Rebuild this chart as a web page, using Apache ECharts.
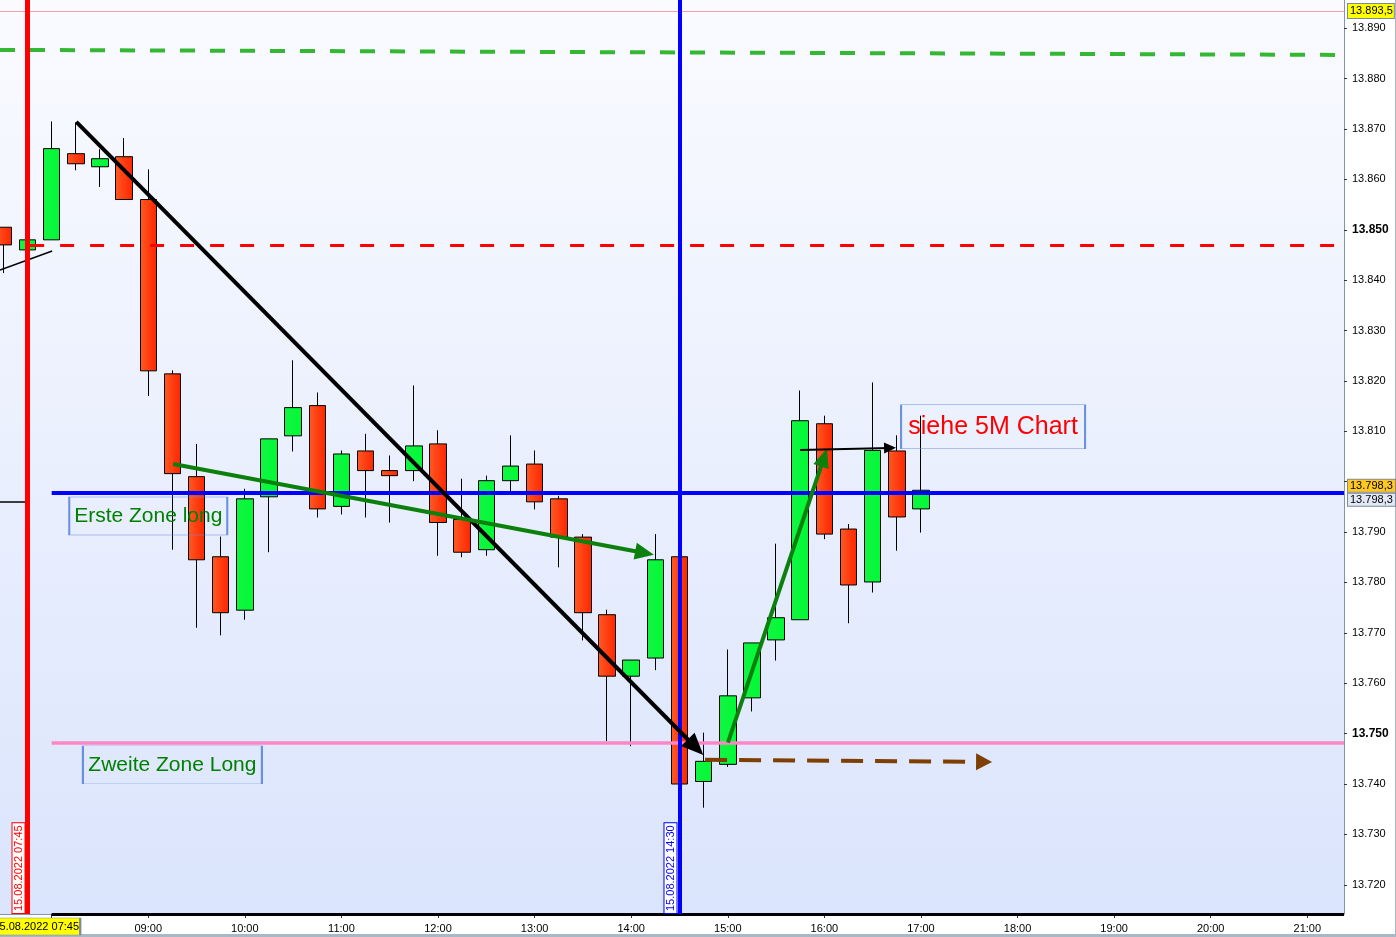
<!DOCTYPE html>
<html>
<head>
<meta charset="utf-8">
<script src="https://cdn.jsdelivr.net/npm/echarts@6/dist/echarts.min.js"></script>
<style>
html,body{margin:0;padding:0;background:#ffffff;}
#chart{width:1396px;height:937px;}
</style>
</head>
<body>
<div id="chart"></div>
<script>
// ---------- data (15-minute candles, 15.08.2022) ----------
const candleTimes = ['07:30','07:45','08:00','08:15','08:30','08:45','09:00','09:15','09:30','09:45',
  '10:00','10:15','10:30','10:45','11:00','11:15','11:30','11:45','12:00','12:15',
  '12:30','12:45','13:00','13:15','13:30','13:45','14:00','14:15','14:30','14:45',
  '15:00','15:15','15:30','15:45','16:00','16:15','16:30','16:45','17:00'];
const opens  = [13850.5,13846.0,13848.0,13865.1,13862.5,13864.5,13856.0,13821.4,13801.0,13785.1,
  13774.5,13797.0,13809.1,13815.1,13795.1,13806.1,13802.2,13802.2,13807.5,13792.5,
  13786.5,13800.2,13803.5,13796.6,13789.0,13773.6,13761.4,13765.0,13785.1,13740.5,
  13743.9,13757.1,13768.6,13772.6,13811.5,13790.6,13780.1,13806.1,13794.6];
const closes = [13847.0,13848.0,13866.1,13863.1,13864.1,13856.0,13822.0,13801.6,13784.5,13774.0,
  13796.6,13808.5,13814.7,13794.6,13805.5,13802.2,13801.2,13807.1,13791.9,13786.0,
  13800.2,13803.1,13796.0,13789.0,13774.0,13761.4,13764.6,13784.5,13740.0,13744.5,
  13757.5,13768.0,13773.0,13812.1,13789.6,13779.5,13806.2,13793.0,13798.3];
const lows   = [13841.4,13846.0,13848.0,13861.8,13858.5,13856.0,13817.0,13786.5,13771.0,13769.5,
  13772.6,13786.0,13806.0,13792.9,13793.5,13792.9,13791.9,13800.1,13785.3,13785.0,
  13785.3,13798.1,13794.5,13783.0,13768.5,13748.5,13747.5,13762.6,13740.0,13735.3,
  13743.4,13754.4,13764.5,13772.6,13788.6,13771.9,13778.0,13786.3,13789.9];
const highs  = [13850.5,13848.0,13871.5,13871.3,13866.0,13868.2,13862.0,13822.1,13807.5,13789.1,
  13798.6,13808.5,13824.1,13817.7,13806.2,13809.5,13805.2,13819.1,13810.2,13800.6,
  13801.2,13809.2,13806.2,13797.2,13789.6,13774.6,13764.6,13789.6,13785.1,13750.2,
  13766.7,13768.0,13787.7,13818.1,13813.1,13791.6,13819.7,13809.2,13813.1];

const yTickValues = [13720,13730,13740,13750,13760,13770,13780,13790,13800,13810,
  13820,13830,13840,13850,13860,13870,13880,13890];
const yLabelValues = [13720,13730,13740,13750,13760,13770,13780,13790,13810,
  13820,13830,13840,13850,13860,13870,13880,13890];
const yBoldTicks = [13750,13850];
const xTickTimes  = ['08:00','09:00','10:00','11:00','12:00','13:00','14:00','15:00','16:00','17:00','18:00','19:00','20:00','21:00'];
const xLabelTimes = ['09:00','10:00','11:00','12:00','13:00','14:00','15:00','16:00','17:00','18:00','19:00','20:00','21:00'];

// drawn levels / annotations (time, price)
const topPrice = 13893.4, topPriceText = '13.893,5';
const lastPriceLine = 13797.8, lastPriceText = '13.798,3';
const redZone = 13847.0;
const pinkZone = 13748.2;
const greenDashed = [['07:27:54', 13885.7], ['21:22:48', 13884.7]];
const redDashed = [['07:46:36', redZone], ['21:17:12', redZone]];
const sessionStart = '07:45', sessionStartText = '15.08.2022 07:45';
const marker1430 = '14:30', marker1430Text = '15.08.2022 14:30';
const prevLevel = [['07:27:54', 13796.1], ['07:43:30', 13796.1]];
const prevTrend = [['07:27:54', 13842.0], ['08:00:18', 13845.8]];
const blackArrow = [['08:15:18', 13871.4], ['14:40:00', 13747.3]];
const greenArrow1 = [['09:15:30', 13803.5], ['14:08:18', 13785.85]];
const greenArrow2 = [['15:00:06', 13748.2], ['15:59:48', 13804.8]];
const blackSmallArrow = [['15:44:54', 13806.3], ['16:40:48', 13806.7]];
const brownArrow = [['14:45:54', 13744.8], ['17:39:12', 13744.4]];
const notes = [
  {text: 'Erste Zone long', t: '09:00', p: 13793.2, color: '#008000', size: 21, box: [158, 38]},
  {text: 'Zweite Zone Long', t: '09:15', p: 13743.8, color: '#008000', size: 21, box: [179, 38]},
  {text: 'siehe 5M Chart', t: '17:44:48', p: 13810.9, color: '#FF0000', size: 25, box: [184, 44]}
];

// ---------- helpers ----------
function tm(s){ const a = s.split(':').map(Number); return a[0]*60 + a[1] + (a[2]||0)/60; }
function fmtT(m){ m = Math.round(m); return String(Math.floor(m/60)).padStart(2,'0') + ':' + String(m%60).padStart(2,'0'); }
function fmtY(v){ const s = String(Math.round(v)); return s.slice(0,2) + '.' + s.slice(2); }

const X_MIN = tm('07:27:54'), X_MAX = tm('21:22:48');
const Y_MIN = 13714.2, Y_MAX = 13895.6;
const FONT = 'Arial, "Liberation Sans", sans-serif';

const candleData = candleTimes.map((t,i) => [tm(t), opens[i], closes[i], lows[i], highs[i]]);

function seg(pts, lineStyle, arrow){
  const a = {coord:[tm(pts[0][0]), pts[0][1]], symbol:'none', lineStyle: lineStyle};
  const b = {coord:[tm(pts[1][0]), pts[1][1]], symbol: arrow ? 'triangle' : 'none'};
  if (arrow) { b.symbolSize = arrow; }
  return [a, b];
}

const redGrad = new echarts.graphic.LinearGradient(0,0,1,0,[{offset:0,color:'#FF5A24'},{offset:1,color:'#FF2400'}]);
const greenGrad = new echarts.graphic.LinearGradient(0,0,1,0,[{offset:0,color:'#14F446'},{offset:1,color:'#00FA32'}]);

const markLines = [
  // thin top price line with yellow label
  [{coord:[X_MIN, topPrice], symbol:'none', lineStyle:{color:'#F2A0A8', width:1, type:'solid'},
    label:{show:true, position:'end', distance:4, formatter: topPriceText, color:'#000', fontSize:11, fontFamily:FONT,
      backgroundColor:'#FFFF00', borderColor:'#7A8A9A', borderWidth:1, padding:[2,1,1,2]}},
   {coord:[X_MAX, topPrice], symbol:'none'}],
  seg(greenDashed, {color:'#34B834', width:4, type:[15,15]}),
  seg(redDashed, {color:'#FF0000', width:3, type:[14,16]}),
  seg([['08:00', pinkZone], ['21:22:48', pinkZone]], {color:'#FF86C6', width:3.5, type:'solid'}),
  seg(prevLevel, {color:'#000', width:1.5, type:'solid'}),
  seg(prevTrend, {color:'#000', width:1.5, type:'solid'}),
  // bottom pane border
  seg([['08:00', Y_MIN], ['21:22:48', Y_MIN]], {color:'#000', width:3, type:'solid'}),
  // blue last-price line
  [{coord:[tm('08:00'), lastPriceLine], symbol:'none', lineStyle:{color:'#0000FF', width:4, type:'solid'},
    label:{show:true, position:'end', distance:4,
      formatter: '{a|' + lastPriceText + '}\n{b|' + lastPriceText + '}',
      rich:{
        a:{color:'#000', fontSize:11, fontFamily:FONT, backgroundColor:'#FFC824', borderColor:'#8A8A8A', borderWidth:1, padding:[1,1,0,2], lineHeight:14, width:44},
        b:{color:'#000', fontSize:11, fontFamily:FONT, backgroundColor:'#E2E8F4', borderColor:'#7A8A9A', borderWidth:1, padding:[1,1,0,2], lineHeight:14, width:44}
      }}},
   {coord:[X_MAX, lastPriceLine], symbol:'none'}],
  // vertical time markers
  {xAxis: tm(sessionStart), symbol:'none', lineStyle:{color:'#FF0000', width:5, type:'solid'},
    label:{show:true, position:'insideStartTop', distance:[1,3], formatter: sessionStartText, color:'#FF0000', fontSize:11, fontFamily:FONT,
      backgroundColor:'#FFFFFF', borderColor:'#FF0000', borderWidth:1, padding:[1,2,0,2]}},
  {xAxis: tm(marker1430), symbol:'none', lineStyle:{color:'#0000FF', width:4, type:'solid'},
    label:{show:true, position:'insideStartTop', distance:[1,3], formatter: marker1430Text, color:'#0000FF', fontSize:11, fontFamily:FONT,
      backgroundColor:'#FFFFFF', borderColor:'#0000FF', borderWidth:1, padding:[1,2,0,2]}},
  // arrows
  seg(blackArrow, {color:'#000', width:4, type:'solid'}, [19,22]),
  seg(greenArrow1, {color:'#0C800C', width:4, type:'solid'}, [17,19]),
  seg(greenArrow2, {color:'#0C800C', width:4, type:'solid'}, [16,19]),
  seg(blackSmallArrow, {color:'#000', width:2, type:'solid'}, [11,12]),
  seg(brownArrow, {color:'#7E3F00', width:4, type:[22,12]}, [17,16])
];

const markPoints = notes.map(n => ({
  coord:[tm(n.t), n.p], symbol:'rect', symbolSize:n.box,
  itemStyle:{color:'rgba(0,0,0,0)', borderColor:'#6A8FE0', borderWidth:1},
  label:{show:true, position:'inside', formatter:n.text, color:n.color, fontSize:n.size, fontFamily:FONT}
}));
markPoints.push({
  coord:[tm('07:50:24'), Y_MIN], symbol:'rect', symbolSize:[88,17], symbolOffset:[0,12.5],
  itemStyle:{color:'#FFFF00', borderColor:'#7A8A9A', borderWidth:1},
  label:{show:true, position:'inside', formatter: sessionStartText, color:'#000', fontSize:11, fontFamily:FONT}
});

const chart = echarts.init(document.getElementById('chart'), null, {renderer:'canvas'});
chart.setOption({
  animation:false,
  backgroundColor:'#FFFFFF',
  grid:{left:0, right:52, top:0, bottom:23, show:true, borderWidth:0,
    backgroundColor: new echarts.graphic.LinearGradient(0,0,0,1,[{offset:0,color:'#FAFBFF'},{offset:1,color:'#DAE4FC'}])},
  xAxis:{type:'value', min:X_MIN, max:X_MAX, splitLine:{show:false},
    axisLine:{show:true, onZero:false, lineStyle:{color:'#8595A8', width:1}},
    axisTick:{show:true, customValues: xTickTimes.map(tm), length:4, lineStyle:{color:'#333'}},
    axisLabel:{show:true, customValues: xLabelTimes.map(tm), formatter: v => fmtT(v), color:'#000', fontSize:11, fontFamily:FONT, margin:9}},
  yAxis:{type:'value', position:'right', min:Y_MIN, max:Y_MAX, splitLine:{show:false},
    axisLine:{show:true, onZero:false, lineStyle:{color:'#8595A8', width:1}},
    axisTick:{show:true, customValues: yTickValues, length:3, lineStyle:{color:'#333'}},
    axisLabel:{show:true, customValues: yLabelValues, margin:8, color:'#000', fontSize:11, fontFamily:FONT,
      formatter: v => yBoldTicks.indexOf(Math.round(v)) >= 0 ? '{b|' + fmtY(v) + '}' : fmtY(v),
      rich:{b:{fontWeight:'bold', fontSize:12, color:'#000', fontFamily:FONT}}}},
  series:[{
    type:'candlestick', name:'NQ 15M',
    data: candleData,
    encode:{x:0, y:[1,2,3,4]},
    barWidth:17,
    itemStyle:{color: greenGrad, color0: redGrad, borderColor:'#000', borderColor0:'#000', borderWidth:1},
    emphasis:{disabled:true},
    markLine:{silent:true, animation:false, symbol:['none','none'], label:{show:false}, emphasis:{disabled:true}, data: markLines},
    markPoint:{silent:true, animation:false, emphasis:{disabled:true}, data: markPoints}
  }],
  graphic:[
    {type:'rect', left:0, top:934, shape:{width:1396, height:3}, style:{fill:'#A9B8C6'}, silent:true},
    {type:'rect', left:1395, top:0, shape:{width:1, height:937}, style:{fill:'#A9B8C6'}, silent:true}
  ]
});
</script>
</body>
</html>
